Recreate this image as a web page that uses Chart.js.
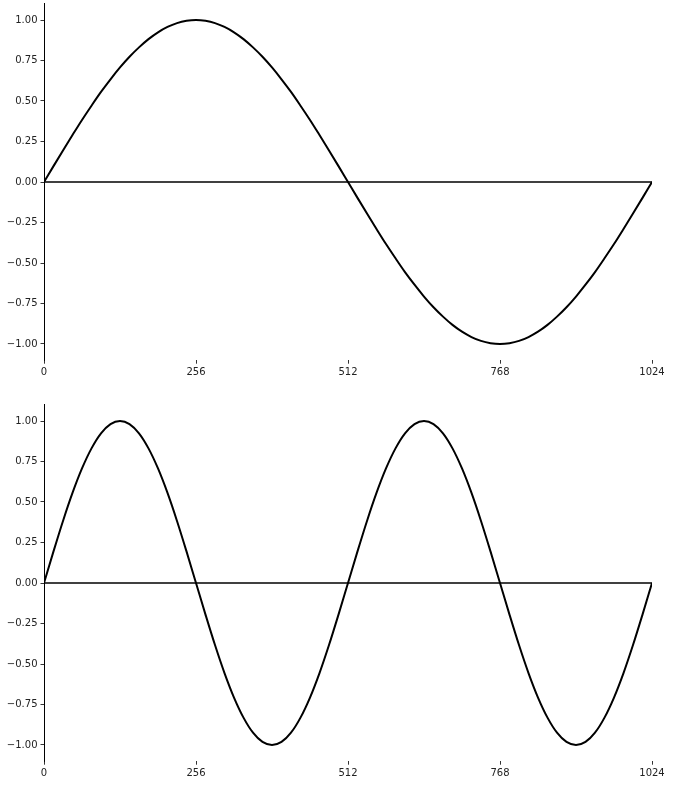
<!DOCTYPE html>
<html>
<head>
<meta charset="utf-8">
<script src="https://cdn.jsdelivr.net/npm/chart.js@4"></script>
<style>
html,body{margin:0;padding:0;background:#fff;}
#wrap{position:relative;width:673px;height:787px;}
.c{position:absolute;left:0;width:673px;height:401px;}
</style>
</head>
<body>
<div id="wrap">
<div class="c" style="top:0"><canvas id="c1" width="673" height="401"></canvas></div>
<div class="c" style="top:401px"><canvas id="c2" width="673" height="401"></canvas></div>
</div>
<script>
// sample positions (every 16 samples)
const xPositions = [0,16,32,48,64,80,96,112,128,144,160,176,192,208,224,240,256,272,288,304,320,336,352,368,384,400,416,432,448,464,480,496,512,528,544,560,576,592,608,624,640,656,672,688,704,720,736,752,768,784,800,816,832,848,864,880,896,912,928,944,960,976,992,1008,1024];
// top panel: one full cycle
const topValues = [0,0.098,0.195,0.290,0.383,0.471,0.556,0.634,0.707,0.773,0.831,0.882,0.924,0.957,0.981,0.995,1.000,
0.995,0.981,0.957,0.924,0.882,0.831,0.773,0.707,0.634,0.556,0.471,0.383,0.290,0.195,0.098,0,
-0.098,-0.195,-0.290,-0.383,-0.471,-0.556,-0.634,-0.707,-0.773,-0.831,-0.882,-0.924,-0.957,-0.981,-0.995,-1.000,
-0.995,-0.981,-0.957,-0.924,-0.882,-0.831,-0.773,-0.707,-0.634,-0.556,-0.471,-0.383,-0.290,-0.195,-0.098,0];
// bottom panel: two full cycles
const bottomValues = [0,0.195,0.383,0.556,0.707,0.831,0.924,0.981,1.000,0.981,0.924,0.831,0.707,0.556,0.383,0.195,0,
-0.195,-0.383,-0.556,-0.707,-0.831,-0.924,-0.981,-1.000,-0.981,-0.924,-0.831,-0.707,-0.556,-0.383,-0.195,0,
0.195,0.383,0.556,0.707,0.831,0.924,0.981,1.000,0.981,0.924,0.831,0.707,0.556,0.383,0.195,0,
-0.195,-0.383,-0.556,-0.707,-0.831,-0.924,-0.981,-1.000,-0.981,-0.924,-0.831,-0.707,-0.556,-0.383,-0.195,0];
const zeroLineX = [0,1024];
const zeroLineY = [0,0];
const xTicks = [0,256,512,768,1024];
const yTicks = [-1.00,-0.75,-0.50,-0.25,0.00,0.25,0.50,0.75,1.00];

function fmtY(v){
  const s = Math.abs(v).toFixed(2);
  return (v < -1e-9 ? '\u2212' : '') + s;
}

function makeChart(id, values){
  const curve = xPositions.map((x,i)=>({x:x,y:values[i]}));
  const zero = zeroLineX.map((x,i)=>({x:x,y:zeroLineY[i]}));
  new Chart(document.getElementById(id), {
    type:'line',
    data:{datasets:[
      {data:zero, borderColor:'#000', borderWidth:1.5, pointRadius:0, tension:0},
      {data:curve, borderColor:'#000', borderWidth:2, pointRadius:0, cubicInterpolationMode:'monotone'}
    ]},
    options:{
      responsive:false, animation:false, maintainAspectRatio:false,
      layout:{padding:{left:0,right:21,top:3.8,bottom:0}},
      plugins:{legend:{display:false},tooltip:{enabled:false}},
      scales:{
        x:{type:'linear',min:0,max:1024,
          afterBuildTicks:(a)=>{a.ticks = xTicks.map(v=>({value:v}));},
          afterFit:(a)=>{a.height = 40.8; a.paddingLeft = 0; a.paddingRight = 0;},
          border:{display:false},
          grid:{display:true,drawOnChartArea:false,drawTicks:true,tickLength:3.5,color:'#000',lineWidth:0.8},
          ticks:{color:'#222',font:{family:'DejaVu Sans',size:10},padding:3,maxRotation:0,autoSkip:false,callback:(v)=>String(v)}
        },
        y:{type:'linear',min:-1.1,max:1.1,
          afterBuildTicks:(a)=>{a.ticks = yTicks.map(v=>({value:v}));},
          afterFit:(a)=>{a.width = 44; a.paddingTop = 0; a.paddingBottom = 0;},
          border:{display:true,color:'#000',width:1},
          grid:{display:true,drawOnChartArea:false,drawTicks:true,tickLength:3.5,color:'#000',lineWidth:0.8},
          ticks:{color:'#222',font:{family:'DejaVu Sans',size:10},padding:3,autoSkip:false,callback:(v)=>fmtY(v)}
        }
      }
    }
  });
}
makeChart('c1', topValues);
makeChart('c2', bottomValues);
</script>
</body>
</html>
